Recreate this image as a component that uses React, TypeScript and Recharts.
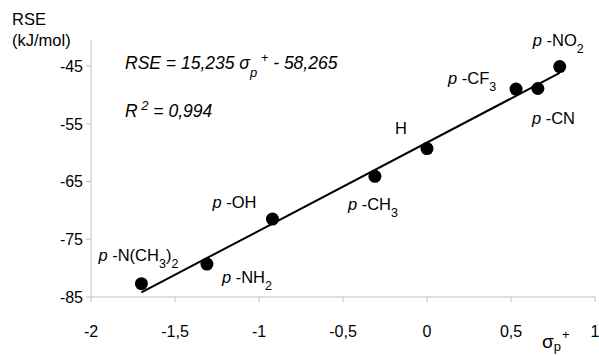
import { ScatterChart, Scatter, XAxis, YAxis } from 'recharts'

const substituents = ['p-N(CH3)2', 'p-NH2', 'p-OH', 'p-CH3', 'H', 'p-CF3', 'p-CN', 'p-NO2']
const sigmaP = [-1.7, -1.31, -0.92, -0.31, 0, 0.53, 0.66, 0.79]
const rse = [-82.7, -79.3, -71.5, -64.1, -59.3, -49.0, -48.9, -45.1]

const trendX = [-1.7, 0.79]
const trendY = [-84.2, -46.2]

const xTicks = [-2, -1.5, -1, -0.5, 0, 0.5, 1]
const yTicks = [-85, -75, -65, -55, -45]

const points = substituents.map((name, i) => ({ name, x: sigmaP[i], y: rse[i] }))
const trend = trendX.map((x, i) => ({ x, y: trendY[i] }))

const FONT = 'Liberation Sans, Arial, sans-serif'
const AXIS = '#bfbfbf'

// label placement relative to marker centre
const labelPos: Record<string, [number, number]> = {
  'p-N(CH3)2': [-43, -23],
  'p-NH2': [15, 19],
  'p-OH': [-60, -11],
  'p-CH3': [-27, 34],
  H: [-32, -15],
  'p-CF3': [-68, -5],
  'p-CN': [-6, 35],
  'p-NO2': [-27, -21],
}

function labelText(name: string) {
  if (name === 'H') return 'H'
  const parts = name.slice(2).split(/(\d)/).filter(Boolean)
  return (
    <>
      <tspan fontStyle="italic">p</tspan>
      <tspan> -</tspan>
      {parts.map((p, i) =>
        /\d/.test(p) ? (
          <tspan key={i} baselineShift="sub" fontSize={12.5}>
            {p}
          </tspan>
        ) : (
          <tspan key={i}>{p}</tspan>
        )
      )}
    </>
  )
}

function Dot(props: any) {
  const { cx, cy, payload } = props
  const [dx, dy] = labelPos[payload.name] ?? [0, 0]
  return (
    <g>
      <circle cx={cx} cy={cy} r={6.5} fill="#000" />
      <text x={cx + dx} y={cy + dy} fontSize={16.5} fontFamily={FONT} fill="#000">
        {labelText(payload.name)}
      </text>
    </g>
  )
}

const fmt = (v: number) => String(v).replace('.', ',')

function YTick(props: any) {
  const { x, y, payload } = props
  return (
    <text x={x} y={y} dx={8} dy={6} textAnchor="end" fontSize={16} fontFamily={FONT} fill="#000">
      {fmt(payload.value)}
    </text>
  )
}

function XTick(props: any) {
  const { x, y, payload } = props
  return (
    <text x={x} y={y} dy={15} textAnchor="middle" fontSize={16} fontFamily={FONT} fill="#000">
      {fmt(payload.value)}
    </text>
  )
}

export default function App() {
  return (
    <div style={{ position: 'relative', width: 599, height: 356, background: '#fff' }}>
      <style>{'body{margin:0}'}</style>
      <ScatterChart width={599} height={356} margin={{ top: 40, right: 4, bottom: 29, left: 11 }}>
        <XAxis
          type="number"
          dataKey="x"
          domain={[-2, 1]}
          ticks={xTicks}
          height={30}
          tickSize={5}
          tickMargin={20}
          stroke={AXIS}
          tick={XTick}
        />
        <YAxis
          type="number"
          dataKey="y"
          domain={[-85, -40.5]}
          ticks={yTicks}
          width={80}
          tickSize={5}
          tickMargin={11}
          stroke={AXIS}
          tick={YTick}
        />
        <Scatter data={trend} line={{ stroke: '#000', strokeWidth: 2 }} shape={() => null} isAnimationActive={false} />
        <Scatter data={points} shape={Dot} isAnimationActive={false} />
      </ScatterChart>
      <svg width={599} height={356} style={{ position: 'absolute', left: 0, top: 0, pointerEvents: 'none' }} fontFamily={FONT}>
        <text x={12} y={25} fontSize={16.5}>RSE</text>
        <text x={12} y={46} fontSize={16.5}>(kJ/mol)</text>
        <text x={125} y={69} fontSize={17.5} fontStyle="italic">
          RSE = 15,235 σ<tspan baselineShift="sub" fontSize={13}>p</tspan>
          <tspan baselineShift="super" fontSize={13}> +</tspan> - 58,265
        </text>
        <text x={125} y={117} fontSize={17.5} fontStyle="italic">
          R<tspan baselineShift="super" fontSize={13}> 2</tspan> = 0,994
        </text>
        <text x={542} y={348} fontSize={19}>
          σ
          <tspan dy={3} fontSize={13}>p</tspan>
          <tspan dy={-12} fontSize={13} dx={1}>+</tspan>
        </text>
      </svg>
    </div>
  )
}
